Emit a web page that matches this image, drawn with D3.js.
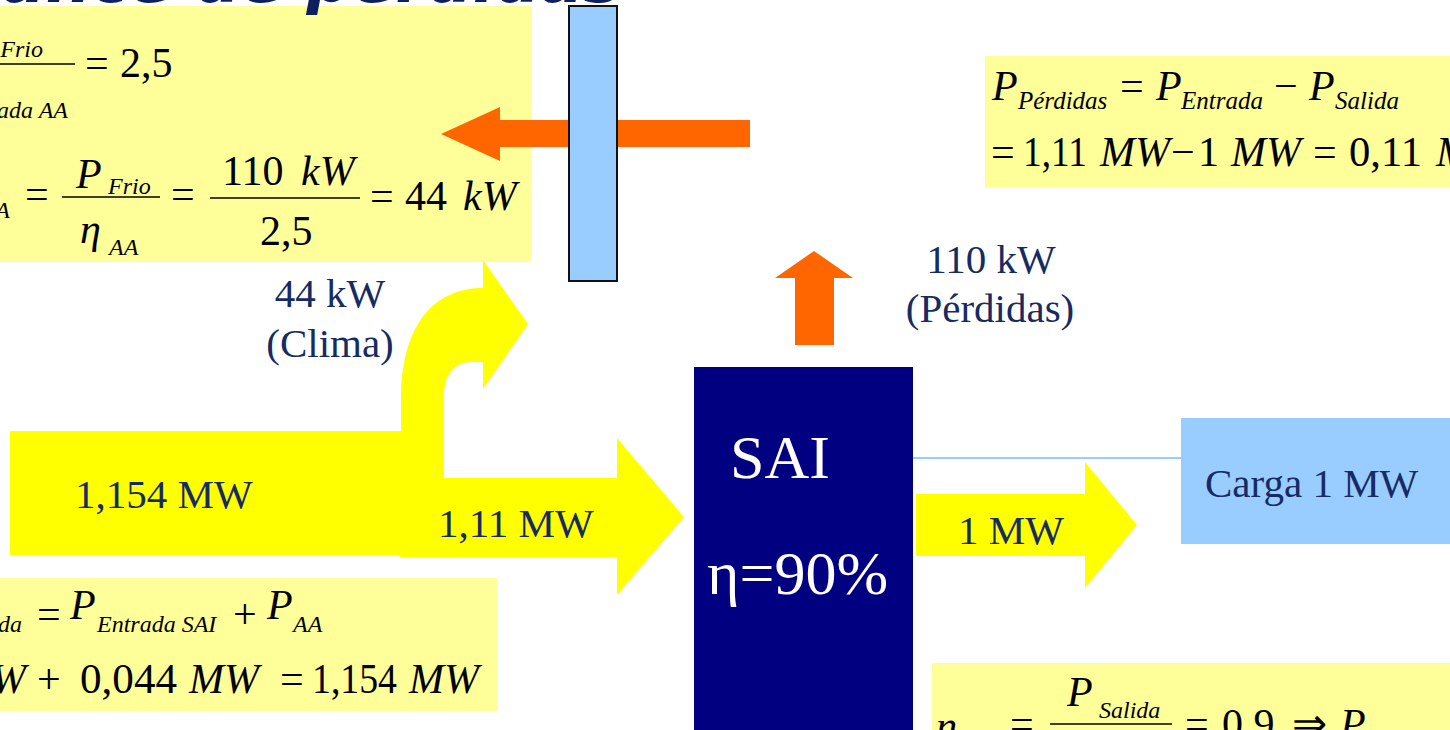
<!DOCTYPE html>
<html>
<head>
<meta charset="utf-8">
<script src="https://cdn.jsdelivr.net/npm/d3@7"></script>
<style>
  html, body { margin: 0; padding: 0; background: #fff; overflow: hidden; }
  svg { display: block; }
</style>
</head>
<body>
<svg id="diagram" width="1450" height="730"></svg>
<script>
// Power flows of the installation (MW)
const flowNames = ["Entrada", "Entrada SAI", "Salida", "Clima", "Pérdidas"];
const flowMW = [1.154, 1.11, 1.0, 0.044, 0.11];
// Efficiencies
const etaNames = ["SAI", "AA"];
const etaValues = [0.9, 2.5];

const loc = d3.formatLocale({ decimal: ",", thousands: ".", grouping: [3], currency: ["", " €"] });
const fmt = loc.format("~r");
const dec = v => loc.format(",")(v);
const mw = v => fmt(+v.toPrecision(4)) + " MW";
const kwNum = v => fmt(Math.round(v * 1000));
const kw = v => kwNum(v) + " kW";
const flow = name => flowMW[flowNames.indexOf(name)];

const svg = d3.select("#diagram");
const SERIF = '"Liberation Serif", "Times New Roman", serif';
const LY = "#ffff99", YEL = "#ffff00", ORA = "#ff6600", NAVY = "#000080", LB = "#99ccff", TXT = "#172b63";

function rect(x, y, w, h, fill, stroke, sw) {
  const r = svg.append("rect").attr("x", x).attr("y", y).attr("width", w).attr("height", h).attr("fill", fill);
  if (stroke) r.attr("stroke", stroke).attr("stroke-width", sw || 1);
  return r;
}
function poly(pts, fill) {
  svg.append("path").attr("d", d3.line()(pts) + "Z").attr("fill", fill);
}
function txt(x, y, s, size, o = {}) {
  const t = svg.append("text").attr("x", x).attr("y", y)
    .style("font-family", SERIF).style("font-size", size + "px")
    .style("font-style", o.it ? "italic" : "normal")
    .attr("fill", o.fill || "#000")
    .attr("text-anchor", o.anchor || "start")
    .text(s);
  if (o.len) t.attr("textLength", o.len).attr("lengthAdjust", "spacingAndGlyphs");
  return t;
}
function bar(x1, x2, y) {
  svg.append("line").attr("x1", x1).attr("x2", x2).attr("y1", y).attr("y2", y)
    .attr("stroke", "#000").attr("stroke-width", 1.6);
}

// ---- formula panels ----
rect(0, 6, 531, 256, LY);
rect(985, 56, 465, 131, LY);
rect(0, 578, 497, 133, LY);
rect(932, 663, 518, 67, LY);

// slide title (only its lower edge is in view)
svg.append("text").attr("x", 622).attr("y", 2)
  .style("font-family", '"DejaVu Sans", Verdana, sans-serif')
  .style("font-weight", "bold").style("font-style", "italic")
  .style("font-size", "64px").attr("fill", "#0d1f5c")
  .attr("text-anchor", "end").text("Balance de pérdidas");

// ---- heat flow leaving through the wall (orange) ----
poly([[750, 120], [500, 120], [500, 107], [441, 134], [500, 161], [500, 147], [750, 147]], ORA);
rect(569, 6, 48, 275, LB, "#111", 2);

// losses of the UPS (orange, upward)
poly([[795, 345], [795, 278], [775, 278], [814, 251], [853, 278], [834, 278], [834, 345]], ORA);

// ---- electrical flows (yellow) ----
// branch to air conditioning
svg.append("path").attr("fill", YEL).attr("d",
  "M401,557 L401,400 C401,330 430,288 483,288 L483,260 L528,324 L483,389 L483,362 L470,362 " +
  "C455,362 444,375 444,395 L444,557 Z");
rect(10, 431, 433, 124, YEL);
// input to the UPS
poly([[400, 478], [617, 478], [617, 438], [684, 517], [617, 595], [617, 557], [400, 557]], YEL);
// output of the UPS
poly([[916, 494], [1085, 494], [1085, 462], [1137, 525], [1085, 588], [1085, 556], [916, 556]], YEL);

// UPS block
rect(694, 367, 219, 380, NAVY);
txt(730, 478, "SAI", 62, { fill: "#fff" });
txt(707, 594, "η=" + Math.round(etaValues[0] * 100) + "%", 62, { fill: "#fff" });

// connection to the load
svg.append("line").attr("x1", 913).attr("x2", 1182).attr("y1", 458).attr("y2", 458)
  .attr("stroke", LB).attr("stroke-width", 2);
rect(1181, 418, 269, 126, LB);
txt(1205, 497, "Carga " + mw(flow("Salida")), 41, { fill: TXT });

// flow labels
txt(75, 508, mw(flow("Entrada")), 41, { fill: TXT });
txt(438, 537, mw(flow("Entrada SAI")), 41, { fill: TXT });
txt(958, 544, mw(flow("Salida")), 41, { fill: TXT });
txt(330, 307, kw(flow("Clima")), 41, { fill: TXT, anchor: "middle" });
txt(330, 357, "(" + flowNames[3] + ")", 41, { fill: TXT, anchor: "middle" });
txt(991, 273, kw(flow("Pérdidas")), 41, { fill: TXT, anchor: "middle" });
txt(990, 322, "(" + flowNames[4] + ")", 41, { fill: TXT, anchor: "middle" });

// ---- formulas ----
const B = 42, S = 24;
// η_AA = P_Frio / P_Entrada AA = 2,5
txt(43, 57, "Frio", S, { it: true, anchor: "end" });
bar(0, 75, 64);
txt(68, 118, "Entrada AA", S, { it: true, anchor: "end" });
txt(85, 77, "=", B);
txt(120, 77, dec(etaValues[1]), B);
// P_AA = P_Frio / η_AA = 110 kW / 2,5 = 44 kW
txt(10, 218, "AA", S, { it: true, anchor: "end" });
txt(25, 208, "=", B);
txt(76, 188, "P", B, { it: true });
txt(108, 194, "Frio", S, { it: true });
bar(62, 160, 197);
txt(80, 243, "η", B, { it: true });
txt(109, 255, "AA", S, { it: true });
txt(171, 208, "=", B);
txt(222, 185, kwNum(flow("Pérdidas")), B);
txt(301, 185, "kW", B, { it: true });
bar(210, 360, 198);
txt(260, 245, dec(etaValues[1]), B);
txt(370, 210, "=", B);
txt(405, 210, kwNum(flow("Clima")), B);
txt(463, 210, "kW", B, { it: true });

// P_Pérdidas = P_Entrada − P_Salida = 1,11 MW − 1 MW = 0,11 MW
txt(992, 100, "P", B, { it: true });
txt(1018, 109, "Pérdidas", 25, { it: true });
txt(1120, 100, "=", B);
txt(1156, 100, "P", B, { it: true });
txt(1181, 109, "Entrada", 25, { it: true });
txt(1274, 100, "−", B);
txt(1309, 100, "P", B, { it: true });
txt(1335, 109, "Salida", 25, { it: true });
txt(991, 166, "=", B);
txt(1023, 166, dec(flow("Entrada SAI")), B, { len: 64 });
txt(1100, 166, "MW", B, { it: true });
txt(1171, 166, "−", B);
txt(1198, 166, dec(flow("Salida")), B);
txt(1231, 166, "MW", B, { it: true });
txt(1313, 166, "=", B);
txt(1349, 166, dec(flow("Pérdidas")), B, { len: 73 });
txt(1436, 166, "MW", B, { it: true });

// P_Entrada = P_Entrada SAI + P_AA = 1,11 MW + 0,044 MW = 1,154 MW
txt(22, 632, "Entrada", S, { it: true, anchor: "end" });
txt(37, 628, "=", B);
txt(70, 619, "P", B, { it: true });
txt(97, 632, "Entrada SAI", S, { it: true });
txt(233, 628, "+", B);
txt(267, 619, "P", B, { it: true });
txt(293, 632, "AA", S, { it: true });
txt(26, 693, "MW", B, { it: true, anchor: "end" });
txt(37, 693, "+", B);
txt(80, 693, dec(flow("Clima")), B, { len: 97 });
txt(189, 693, "MW", B, { it: true });
txt(280, 693, "=", B);
txt(312, 693, dec(flow("Entrada")), B, { len: 85 });
txt(409, 693, "MW", B, { it: true });

// η_SAI = P_Salida / P_Entrada = 0,9 ⇒ P_Entrada ...
txt(936, 740, "η", B, { it: true });
txt(962, 746, "SAI", S, { it: true });
txt(1010, 738, "=", B);
txt(1067, 706, "P", B, { it: true });
txt(1099, 718, "Salida", S, { it: true });
bar(1050, 1172, 724);
txt(1185, 738, "=", B);
txt(1222, 738, dec(etaValues[0]), B);
txt(1292, 738, "⇒", B);
txt(1340, 738, "P", B, { it: true });
txt(1372, 746, "Entrada", S, { it: true });
</script>
</body>
</html>
